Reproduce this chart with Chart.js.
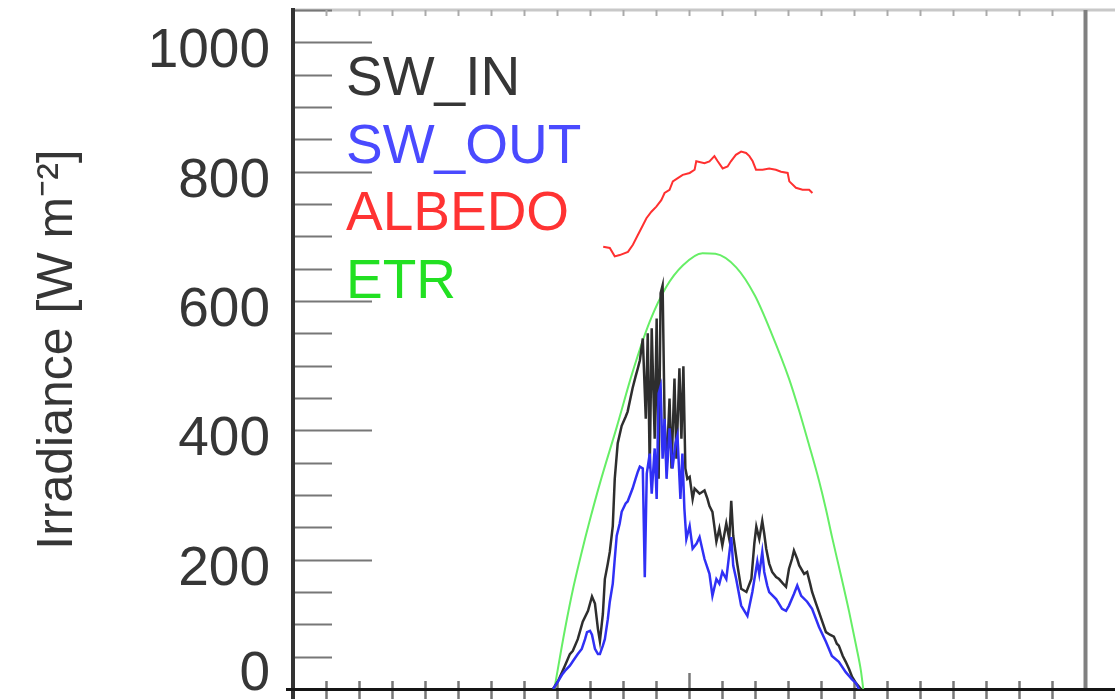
<!DOCTYPE html>
<html>
<head>
<meta charset="utf-8">
<script src="https://cdn.jsdelivr.net/npm/chart.js@4/dist/chart.umd.min.js"></script>
<style>
  html, body { margin: 0; padding: 0; background: #fff; }
  canvas { display: block; }
</style>
</head>
<body>
<canvas id="irradianceChart" width="1115" height="699"></canvas>
<script>
// Data (x = hour of day, y = W m-2; albedo drawn as x1000)
const swInHours = [7.88, 8.03, 8.24, 8.39, 8.48, 8.63, 8.78, 8.94, 9.06, 9.15, 9.24, 9.30, 9.39, 9.45, 9.54, 9.60, 9.69, 9.75, 9.84, 9.96,
    10.08, 10.14, 10.29, 10.38, 10.45, 10.51, 10.60, 10.69, 10.75, 10.81, 10.87, 10.96, 11.02, 11.08, 11.14, 11.20, 11.26, 11.32, 11.41, 11.47,
    11.56, 11.62, 11.71, 11.77, 11.83, 11.89, 11.95, 12.02, 12.11, 12.17, 12.32, 12.47, 12.56, 12.62, 12.71, 12.83, 12.92, 13.01, 13.13, 13.22,
    13.28, 13.34, 13.46, 13.58, 13.74, 13.89, 13.98, 14.04, 14.13, 14.22, 14.28, 14.34, 14.43, 14.52, 14.64, 14.73, 14.85, 14.94, 15.03, 15.12,
    15.18, 15.28, 15.34, 15.49, 15.58, 15.67, 15.73, 15.85, 15.94, 16.06, 16.15, 16.27, 16.39, 16.48, 16.54, 16.66, 16.75, 16.85, 16.94, 17.06, 17.21];
const swInValues = [0, 12, 36, 54, 59, 77, 104, 121, 143, 132, 93, 74, 116, 170, 194, 212, 252, 325, 380, 407,
    421, 429, 465, 483, 496, 508, 542, 418, 550, 341, 558, 387, 573, 325, 612, 624, 418, 341, 449, 341,
    480, 356, 496, 387, 499, 341, 325, 328, 294, 310, 302, 307, 294, 283, 274, 228, 248, 222, 256, 232,
    291, 237, 194, 155, 150, 170, 225, 251, 232, 260, 240, 217, 194, 181, 173, 170, 163, 158, 186, 201,
    214, 201, 191, 178, 181, 163, 150, 132, 119, 101, 88, 84, 81, 70, 67, 51, 42, 31, 19, 9, 0];

const swOutHours = [7.88, 8.00, 8.15, 8.24, 8.39, 8.48, 8.63, 8.75, 8.85, 8.91, 9.00, 9.06, 9.15, 9.24, 9.30, 9.39, 9.45, 9.54, 9.60, 9.69,
    9.75, 9.81, 9.90, 9.96, 10.08, 10.14, 10.29, 10.38, 10.45, 10.51, 10.60, 10.66, 10.72, 10.81, 10.87, 10.96, 11.02, 11.08, 11.14, 11.20,
    11.26, 11.32, 11.41, 11.50, 11.59, 11.65, 11.74, 11.80, 11.86, 11.92, 12.02, 12.11, 12.23, 12.32, 12.47, 12.62, 12.71, 12.83, 12.92, 13.01,
    13.13, 13.28, 13.34, 13.43, 13.58, 13.77, 13.92, 14.07, 14.13, 14.22, 14.28, 14.37, 14.43, 14.64, 14.82, 14.94, 15.03, 15.18, 15.28, 15.40,
    15.58, 15.73, 15.94, 16.15, 16.33, 16.54, 16.75, 16.94, 17.06, 17.15];
const swOutValues = [0, 9, 22, 28, 36, 43, 54, 62, 77, 88, 90, 84, 62, 54, 54, 67, 77, 108, 135, 163,
    201, 237, 256, 274, 287, 290, 310, 325, 336, 344, 341, 173, 333, 364, 302, 372, 294, 457, 468, 356,
    418, 325, 403, 341, 380, 392, 294, 364, 279, 232, 252, 217, 225, 235, 201, 178, 144, 170, 163, 181,
    170, 235, 191, 170, 129, 113, 150, 197, 178, 212, 181, 160, 150, 139, 124, 121, 129, 147, 160, 144,
    135, 124, 96, 73, 51, 42, 26, 15, 9, 0];

const albedoHours = [9.40, 9.60, 9.75, 9.90, 10.15, 10.30, 10.45, 10.61, 10.71, 10.86, 11.01, 11.16, 11.26, 11.41, 11.51, 11.66, 11.81, 12.02,
    12.17, 12.22, 12.47, 12.62, 12.77, 12.87, 13.02, 13.17, 13.27, 13.42, 13.58, 13.73, 13.83, 13.93, 14.03, 14.23, 14.43, 14.63, 14.79,
    14.99, 15.04, 15.24, 15.44, 15.64, 15.74];
const albedoValues = [684, 682, 669, 671, 676, 687, 702, 718, 728, 738, 746, 756, 767, 772, 785, 790, 795, 798,
    803, 816, 813, 816, 824, 816, 805, 808, 816, 826, 831, 829, 824, 816, 803, 803, 805, 803, 800,
    798, 785, 775, 772, 772, 767];

const etrHours = [7.92, 8.24, 8.50, 8.75, 9.00, 9.30, 9.81, 10.29, 10.81, 11.30, 11.81, 12.41, 12.80, 13.43, 14.00, 14.50,
    15.03, 15.34, 15.64, 15.94, 16.15, 16.33, 16.63, 16.85, 17.06, 17.21, 17.28];
const etrValues = [0, 92, 158, 212, 262, 318, 405, 490, 568, 621, 655, 674, 673, 652, 608, 550,
    480, 430, 377, 322, 278, 236, 170, 120, 68, 28, 0];

const seriesNames = ['SW_IN', 'SW_OUT', 'ALBEDO', 'ETR'];
const yTickValues = [0, 200, 400, 600, 800, 1000];
const yMinorStep = 50;
const yMax = 1050;
const xMajorHours = [0, 12, 24];

const textColors = ['#363636', '#4a4aff', '#ff3333', '#22e022'];
const font = '"Liberation Sans", Arial, sans-serif';

function toPoints(hours, values) {
    return hours.map((h, i) => ({ x: h, y: values[i] }));
}

// axes box, tick marks, y labels and the text-only legend
const framePlugin = {
    id: 'frame',
    beforeDatasetsDraw(chart) {
        const { ctx, chartArea: a, scales: { x, y }, width } = chart;
        ctx.save();

        // top and right border
        ctx.strokeStyle = '#c8c8c8';
        ctx.lineWidth = 3;
        ctx.beginPath();
        ctx.moveTo(a.left, a.top);
        ctx.lineTo(width, a.top);
        ctx.stroke();
        ctx.strokeStyle = '#808080';
        ctx.lineWidth = 4;
        ctx.beginPath();
        ctx.moveTo(a.right + 0.5, a.top);
        ctx.lineTo(a.right + 0.5, a.bottom);
        ctx.stroke();

        // y ticks (inward)
        ctx.strokeStyle = '#777';
        ctx.lineWidth = 2;
        for (let v = 0; v <= yMax; v += yMinorStep) {
            const py = Math.round(y.getPixelForValue(v)) + 0.5;
            const len = yTickValues.includes(v) ? 79 : 39;
            ctx.beginPath();
            ctx.moveTo(a.left, py);
            ctx.lineTo(a.left + len, py);
            ctx.stroke();
        }

        // x ticks bottom and top
        for (let h = 1; h < 24; h++) {
            const px = Math.round(x.getPixelForValue(h)) + 0.5;
            const major = xMajorHours.includes(h);
            ctx.strokeStyle = '#777';
            ctx.lineWidth = 2.5;
            ctx.beginPath();
            ctx.moveTo(px, a.bottom - (major ? 16 : 8));
            ctx.lineTo(px, a.bottom + 10);
            ctx.stroke();
            ctx.strokeStyle = '#aaa';
            ctx.lineWidth = 2;
            ctx.beginPath();
            ctx.moveTo(px, a.top);
            ctx.lineTo(px, a.top + 6);
            ctx.stroke();
        }

        // left and bottom axis lines
        ctx.strokeStyle = '#333';
        ctx.lineWidth = 4;
        ctx.beginPath();
        ctx.moveTo(a.left, a.top - 2);
        ctx.lineTo(a.left, a.bottom + 10);
        ctx.stroke();
        ctx.strokeStyle = '#151515';
        ctx.lineWidth = 3;
        ctx.beginPath();
        ctx.moveTo(a.left - 7, a.bottom + 0.5);
        ctx.lineTo(width, a.bottom + 0.5);
        ctx.stroke();

        // y tick labels
        ctx.fillStyle = '#363636';
        ctx.font = '55px ' + font;
        ctx.textAlign = 'right';
        ctx.textBaseline = 'alphabetic';
        yTickValues.forEach(v => {
            const py = y.getPixelForValue(v);
            ctx.fillText(String(v), a.left - 23, Math.min(py + 25, a.bottom + 1));
        });
        ctx.restore();
    },
    afterDraw(chart) {
        const { ctx } = chart;
        ctx.save();
        ctx.font = '55px ' + font;
        ctx.textAlign = 'left';
        ctx.textBaseline = 'alphabetic';
        seriesNames.forEach((name, i) => {
            ctx.fillStyle = textColors[i];
            ctx.fillText(name, 346, 95 + i * 67.7);
        });
        ctx.restore();
    }
};

const ctx = document.getElementById('irradianceChart').getContext('2d');
const irradianceChart = new Chart(ctx, {
    type: 'line',
    data: {
        datasets: [{
            label: 'SW_OUT',
            data: toPoints(swOutHours, swOutValues),
            borderColor: '#3030f5',
            borderWidth: 2.5,
            order: 1
        }, {
            label: 'SW_IN',
            data: toPoints(swInHours, swInValues),
            borderColor: '#2e2e2e',
            borderWidth: 2.5,
            order: 2
        }, {
            label: 'ALBEDO',
            data: toPoints(albedoHours, albedoValues),
            borderColor: '#ff3030',
            borderWidth: 2,
            order: 3
        }, {
            label: 'ETR',
            data: toPoints(etrHours, etrValues),
            borderColor: '#66ee66',
            borderWidth: 2,
            cubicInterpolationMode: 'monotone',
            order: 4
        }]
    },
    options: {
        responsive: false,
        animation: false,
        devicePixelRatio: 1,
        layout: {
            padding: { left: 0, right: 30, top: 10, bottom: 10 }
        },
        elements: {
            point: { radius: 0 },
            line: { tension: 0 }
        },
        scales: {
            x: {
                type: 'linear',
                min: 0,
                max: 24,
                display: false
            },
            y: {
                min: 0,
                max: yMax,
                afterFit: scale => { scale.width = 293; },
                ticks: { display: false },
                grid: { display: false },
                border: { display: false },
                title: {
                    display: true,
                    text: 'Irradiance [W m\u207B\u00B2]',
                    color: '#363636',
                    font: { family: font, size: 50 },
                    padding: { top: 28, bottom: 0 }
                }
            }
        },
        plugins: {
            legend: { display: false },
            tooltip: { enabled: false }
        }
    },
    plugins: [framePlugin]
});
</script>
</body>
</html>
